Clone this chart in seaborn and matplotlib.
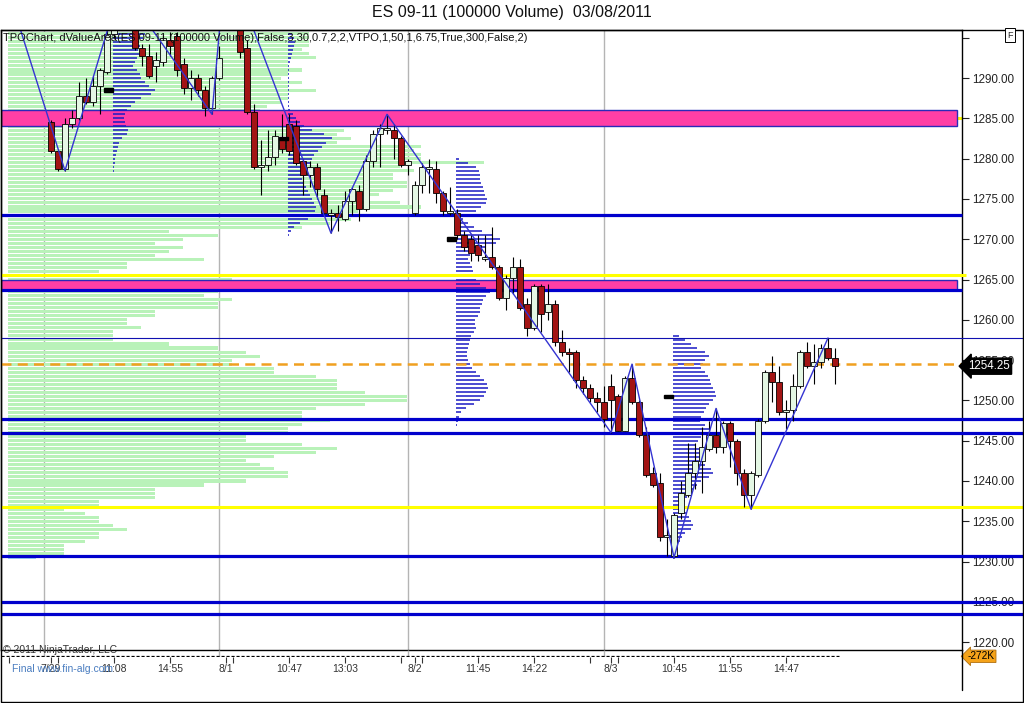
import matplotlib
matplotlib.use("Agg")
import matplotlib.pyplot as plt
import matplotlib.transforms as mtransforms
from matplotlib.lines import Line2D
from matplotlib.patches import Rectangle
import seaborn as sns
import numpy as np
import pandas as pd

# ---- 100000-volume bars (index 0 = first bar of 7/29 on screen) ----
opens = [1284.5, 1281.0, 1278.75, 1284.25, 1285.0, 1287.75, 1287.0, 1289.0, 1290.75, 1295.5,
         1298.5, 1299.75, 1297.0, 1293.75, 1292.75, 1291.5, 1292.0, 1294.75, 1295.25, 1291.75,
         1288.75, 1290.0, 1288.5, 1286.25, 1290.0, 1303.0, 1301.0, 1298.5, 1293.75, 1285.75,
         1279.0, 1279.25, 1280.25, 1282.5, 1284.25, 1284.0, 1279.75, 1278.0, 1279.0, 1275.5,
         1273.0, 1273.25, 1272.5, 1274.75, 1276.0, 1273.75, 1279.75, 1283.0, 1283.5, 1283.5,
         1282.5, 1279.25, 1273.25, 1276.75, 1278.75, 1278.75, 1275.75, 1273.25, 1273.25, 1270.5,
         1270.0, 1269.25, 1267.5, 1267.75, 1266.5, 1262.75, 1265.25, 1266.5, 1262.0, 1259.0,
         1264.25, 1261.0, 1262.0, 1257.25, 1256.0, 1256.0, 1252.5, 1251.5, 1250.25, 1249.75,
         1251.75, 1250.5, 1246.25, 1252.75, 1249.75, 1245.75, 1241.0, 1239.75, 1233.0, 1230.75,
         1236.0, 1238.25, 1241.0, 1242.5, 1244.0, 1245.75, 1244.25, 1247.25, 1245.0, 1241.0,
         1238.25, 1240.75, 1247.5, 1253.5, 1252.25, 1248.5, 1248.75, 1251.75, 1256.0, 1254.25,
         1254.75, 1256.5, 1255.25]
highs = [1284.75, 1281.25, 1285.0, 1286.0, 1289.5, 1290.0, 1290.25, 1291.25, 1296.25, 1299.25,
         1301.5, 1300.5, 1297.5, 1294.25, 1294.25, 1293.25, 1295.5, 1295.75, 1295.75, 1292.5,
         1291.0, 1290.5, 1289.0, 1290.25, 1294.0, 1305.0, 1302.5, 1299.5, 1294.75, 1286.75,
         1282.25, 1283.5, 1283.5, 1285.5, 1285.5, 1284.75, 1280.0, 1279.75, 1279.5, 1276.25,
         1273.75, 1274.25, 1276.0, 1276.5, 1276.75, 1280.5, 1283.5, 1284.25, 1285.5, 1284.25,
         1282.75, 1280.0, 1277.25, 1279.5, 1280.0, 1279.75, 1276.0, 1276.5, 1273.75, 1271.0,
         1270.5, 1270.5, 1270.5, 1271.5, 1266.75, 1265.5, 1267.75, 1267.5, 1262.75, 1264.5,
         1264.5, 1264.5, 1262.5, 1258.75, 1256.5, 1256.25, 1253.0, 1252.0, 1251.0, 1251.75,
         1253.25, 1250.75, 1253.0, 1254.5, 1250.0, 1246.75, 1241.75, 1241.0, 1235.25, 1236.0,
         1240.0, 1244.75, 1244.75, 1246.75, 1247.5, 1249.0, 1247.5, 1247.5, 1245.25, 1241.5,
         1241.25, 1247.75, 1253.75, 1255.5, 1254.25, 1250.0, 1253.25, 1256.25, 1257.25, 1257.0,
         1257.0, 1257.75, 1256.5]
lows = [1280.75, 1278.5, 1278.5, 1283.75, 1284.75, 1286.75, 1286.5, 1285.5, 1290.5, 1295.0,
        1297.75, 1296.5, 1293.5, 1291.5, 1290.0, 1289.5, 1291.5, 1292.75, 1290.25, 1288.0,
        1287.25, 1287.75, 1285.25, 1285.5, 1289.75, 1300.0, 1297.75, 1292.5, 1285.5, 1278.75,
        1275.5, 1278.5, 1279.25, 1280.75, 1280.5, 1279.25, 1275.5, 1276.5, 1275.0, 1273.0,
        1270.75, 1271.0, 1272.25, 1273.0, 1272.25, 1273.5, 1279.0, 1279.0, 1283.0, 1280.0,
        1279.0, 1278.0, 1273.0, 1275.75, 1275.75, 1274.5, 1273.0, 1273.0, 1270.0, 1268.5,
        1267.25, 1267.25, 1267.25, 1266.25, 1262.5, 1261.25, 1263.25, 1261.25, 1258.0, 1258.75,
        1258.5, 1260.0, 1256.75, 1255.5, 1253.5, 1251.5, 1250.75, 1249.75, 1248.5, 1246.75,
        1246.0, 1246.25, 1246.25, 1249.5, 1245.5, 1240.5, 1239.25, 1232.5, 1230.75, 1230.5,
        1235.25, 1238.0, 1239.0, 1238.5, 1243.75, 1243.5, 1243.5, 1241.75, 1239.5, 1236.75,
        1236.5, 1240.5, 1247.25, 1249.75, 1248.25, 1246.5, 1247.5, 1251.5, 1254.0, 1252.0,
        1254.0, 1255.0, 1252.0]
closes = [1281.0, 1278.75, 1284.25, 1285.0, 1287.75, 1287.0, 1289.0, 1291.0, 1295.5, 1298.5,
          1299.75, 1297.0, 1293.75, 1292.75, 1290.25, 1292.25, 1295.0, 1294.0, 1291.0, 1288.75,
          1290.0, 1288.5, 1286.25, 1290.0, 1292.5, 1301.0, 1298.5, 1293.25, 1285.75, 1279.0,
          1279.25, 1280.25, 1282.75, 1281.25, 1281.0, 1279.5, 1278.0, 1279.0, 1276.25, 1273.25,
          1273.25, 1272.75, 1274.75, 1276.25, 1273.75, 1279.75, 1283.0, 1283.75, 1283.75, 1282.5,
          1279.25, 1279.75, 1276.75, 1279.0, 1279.0, 1275.75, 1273.5, 1273.5, 1270.5, 1269.0,
          1268.25, 1268.0, 1267.75, 1266.5, 1262.75, 1265.25, 1266.5, 1261.5, 1259.0, 1264.25,
          1260.75, 1262.0, 1257.25, 1256.0, 1255.75, 1252.5, 1251.5, 1250.25, 1249.75, 1247.75,
          1250.0, 1246.25, 1252.75, 1249.75, 1245.75, 1240.75, 1239.5, 1233.0, 1233.25, 1235.75,
          1238.5, 1241.0, 1242.5, 1244.25, 1245.75, 1244.25, 1247.25, 1245.0, 1241.0, 1238.25,
          1241.0, 1247.5, 1253.5, 1252.25, 1248.5, 1248.75, 1251.75, 1256.0, 1254.25, 1254.75,
          1256.5, 1255.25, 1254.25]

# zigzag swing points
zz_bars = [-5, 2, 10, 23, 25, 40, 48, 80, 83, 89, 95, 100, 111]
zz_prices = [1297.75, 1278.5, 1301.5, 1285.5, 1305.0, 1270.75, 1285.5, 1246.0, 1254.5,
             1230.5, 1249.0, 1236.5, 1257.75]

# composite TPO profile (light green), one row per 0.5 pt from 1295.5 down, length in bars
composite_top = 1295.5
composite_tpo = [43, 43, 43, 43, 42, 43, 44, 40, 40, 42, 40, 39, 42, 40, 44, 40, 40, 39, 37, 36,
                 37, 39, 40, 42, 48, 47, 49, 47, 59, 58, 59, 59, 68, 56, 58, 55, 55, 57, 57, 55,
                 53, 49, 56, 59, 50, 53, 49, 46, 42,
                 23, 30, 25, 21, 25, 23, 21, 28, 17, 17, 13, 27, 32, 30, 27, 30, 28, 32, 30, 30,
                 21, 21, 17, 17, 19, 15, 15, 15, 23, 30, 34, 36, 32, 32, 38, 38, 44, 47, 47, 47,
                 51, 57, 57, 51, 44, 42, 42, 46, 42, 40, 40, 34, 34, 42, 47, 44, 38, 34, 36, 38,
                 40, 40, 34, 28, 21, 21, 21, 13, 13, 8, 11, 13, 13, 15, 17, 13, 13, 11, 8, 8, 8, 4]

# daily volume profiles (dark blue), one row per 0.5 pt, length in 1/7 bar
day_tops = [1296.0, 1296.0, 1280.0, 1258.0]
day_start_bars = [8.85, 33.85, 57.85, 88.9]
day_tpo = [
    [28, 32, 30, 26, 27, 25, 27, 24, 22, 20, 24, 27, 28, 32, 36, 42, 38, 28, 22, 18, 14, 12, 11,
     12, 13, 15, 14, 9, 6, 5, 4, 3, 2, 2, 1, 1],
    [3, 4, 6, 7, 6, 5, 4, 3, 2, 1, 1, 1, 1, 1, 1, 1, 1, 1, 1, 1, 2, 5, 8, 12, 16, 24, 36, 44, 38,
     34, 30, 26, 24, 22, 18, 15, 13, 14, 16, 18, 20, 22, 24, 26, 28, 27, 24, 20, 12, 6, 3, 1],
    [3, 12, 20, 23, 24, 24, 25, 27, 28, 29, 31, 30, 25, 20, 10, 7, 12, 18, 26, 36, 44, 40, 30, 20,
     14, 12, 14, 16, 17, 18, 20, 24, 30, 34, 30, 27, 26, 24, 24, 22, 19, 19, 20, 18, 15, 14, 13,
     12, 11, 11, 12, 14, 16, 20, 24, 28, 31, 32, 30, 28, 24, 18, 10, 5, 3, 2, 1],
    [6, 12, 18, 24, 32, 36, 32, 30, 28, 32, 35, 37, 38, 40, 42, 43, 40, 36, 33, 31, 28, 27, 32, 36,
     32, 28, 25, 23, 26, 28, 29, 30, 32, 38, 40, 36, 28, 24, 20, 17, 14, 12, 10, 11, 14, 16, 18, 20,
     18, 12, 9, 7, 5, 3, 2, 1],
]

# horizontal levels
pink_zones = [(1284.0, 1286.0), (1263.75, 1265.0)]
blue_short = [1273.0, 1263.75]
blue_long = [1247.75, 1246.0, 1230.75, 1225.0, 1223.5]
thin_level = 1257.75
yellow_levels = [1285.0, 1265.5, 1236.75]
dash_level = 1254.5
last_price = 1254.25
day_breaks = [-1, 24, 51, 79]

tick_bars = [-6, 0, 1, 9, 17, 25, 26, 34, 42, 50, 52, 53, 61, 69, 77, 80, 81, 89, 97, 105]
tick_labels = ['', '7/29', '', '11:08', '14:55', '8/1', '', '10:47', '13:03', '', '8/2', '',
               '11:45', '14:22', '', '8/3', '', '10:45', '11:55', '14:47']
price_ticks = list(range(1220, 1300, 5))

title = 'ES 09-11 (100000 Volume)  03/08/2011'
study = ('TPOChart, dValueArea(ES 09-11 (100000 Volume),False,3,30,0.7,2,2,VTPO,1,50,1,6.75,'
         'True,300,False,2)')

sns.set_theme(style="white")
plt.rcParams['font.family'] = ['Liberation Sans', 'DejaVu Sans']

W, H = 1024, 703
fig = plt.figure(figsize=(W / 100, H / 100), dpi=100)
fig.patch.set_facecolor('white')


def frect(x0, y0, x1, y1):
    return [x0 / W, 1 - y1 / H, (x1 - x0) / W, (y1 - y0) / H]


ax = fig.add_axes(frect(1, 30, 962, 650))
ax2 = fig.add_axes(frect(1, 650, 962, 657))
xlim = (-7.14, 130.14)
ylim = (1219.03, 1295.96)
trans = mtransforms.blended_transform_factory(ax.transAxes, ax.transData)


def axfrac(px):
    return (px - 1) / 961.0


# day separators
ax.vlines(day_breaks, ylim[0], ylim[1], color='#b4b4b4', lw=1, zorder=0.5)
ax2.vlines(day_breaks, 0, 1, color='#b4b4b4', lw=1, zorder=0.5)

# composite profile
comp_prices = composite_top - 0.5 * np.arange(len(composite_tpo))
comp_colors = ['#b9f2b9'] * (len(composite_tpo) - 1) + ['#9fd4f0']
ax.barh(comp_prices, composite_tpo, left=-6.15, height=0.38, color=comp_colors, lw=0, zorder=1)

# zones
for lo, hi in pink_zones:
    ax.add_patch(Rectangle((0, lo), axfrac(957), hi - lo, transform=trans, facecolor='#ff3fa5',
                           edgecolor='#2a2ab8', lw=1, zorder=2.2))

# daily profiles + POC markers
for top, counts, start in zip(day_tops, day_tpo, day_start_bars):
    c = np.array(counts, dtype=float)
    p = top - 0.5 * np.arange(len(c))
    ax.hlines(p, start, start + c / 7.0, color='#1a1ac4', lw=1.1, zorder=3)
    poc = p[np.argmax(c)]
    ax.add_patch(Rectangle((start - 1.3, poc - 0.22), 1.3, 0.44, color='black', zorder=4.5))


def level(p, x1, color, lw, z=3.5, **kw):
    ax.plot([0, axfrac(x1)], [p, p], transform=trans, color=color, lw=lw, clip_on=False,
            zorder=z, solid_capstyle='butt', **kw)


level(yellow_levels[0], 962, '#ffff00', 2.2, z=2.0)
level(yellow_levels[1], 966, '#ffff00', 2.2)
level(yellow_levels[2], 1023, '#ffff00', 2.2)
for p in blue_short:
    level(p, 962, '#0000cc', 2.3)
for p in blue_long:
    level(p, 1023, '#0000cc', 2.3)
level(thin_level, 1023, '#1010b0', 0.8)
level(dash_level, 962, '#f0a020', 1.8, dashes=(4, 2.5))

# candles
x = np.arange(len(opens))
o = np.array(opens); c = np.array(closes)
up = c >= o
ax.vlines(x, lows, highs, color='black', lw=0.8, zorder=4)
body = np.maximum(np.abs(c - o), 0.12)
ax.bar(x, body, bottom=np.minimum(o, c), width=0.72,
       color=np.where(up, '#e4f7e4', '#a31414'), edgecolor='black', lw=0.6, zorder=4.2)

# zigzag
zz = pd.DataFrame({'bar': zz_bars, 'price': zz_prices})
sns.lineplot(data=zz, x='bar', y='price', sort=False, estimator=None, color='#3434d2',
             lw=1, ax=ax, zorder=5)

ax.set_xlim(*xlim)
ax.set_ylim(*ylim)
ax.set_xlabel('')
ax.set_ylabel('')
ax.yaxis.tick_right()
ax.set_yticks(price_ticks)
ax.set_yticklabels([f'{v:.2f}' if v != 1295 else '' for v in price_ticks])
ax.tick_params(axis='y', right=True, left=False, direction='out', length=5, width=0.8, pad=2.5,
               labelsize=8.4, colors='#222222')
ax.tick_params(axis='x', bottom=False, labelbottom=False)
for s in ax.spines.values():
    s.set_color('black')
    s.set_linewidth(1)
ax.grid(False)

ax.text(0.002, 0.987, study, transform=ax.transAxes, fontsize=8.0, va='center', ha='left',
        color='#111111', zorder=7)

# last price marker
ax.text(1.006, last_price, f'{last_price:.2f}', transform=trans, fontsize=8.3, color='white',
        va='center', ha='left', clip_on=False, zorder=10,
        bbox=dict(boxstyle='larrow,pad=0.18', fc='black', ec='black'))

# bottom strip with time axis
ax2.set_xlim(*xlim)
ax2.set_ylim(0, 1)
for s in ax2.spines.values():
    s.set_visible(False)
ax2.patch.set_alpha(0)
ax2.set_yticks([])
ax2.set_xticks(tick_bars)
ax2.set_xticklabels(tick_labels)
ax2.tick_params(axis='x', bottom=True, direction='out', length=4.3, width=0.8, pad=1,
                labelsize=7.5, colors='#333333')
ax2.plot([xlim[0], len(opens) - 0.5], [0.12, 0.12], color='black', lw=0.9,
         dashes=(2.5, 1.5))
ax2.text(1.006, 0.1, '-272K', transform=ax2.transAxes, fontsize=7.3, color='black',
         va='center', ha='left', clip_on=False, zorder=10,
         bbox=dict(boxstyle='larrow,pad=0.12', fc='#f5a31a', ec='#b07010', lw=0.6))

# texts outside the plot
fig.text(512 / W, 1 - 13 / H, title, ha='center', va='center', fontsize=11.5, color='#111111')
fig.text(3 / W, 1 - 650 / H, '\u00a9 2011 NinjaTrader, LLC', fontsize=7.5, va='center',
         color='#333333')
fig.text(12 / W, 1 - 669 / H, 'Final www.fin-alg.com', fontsize=7.5, va='center',
         color='#4a7dc0')
fig.text(1010 / W, 1 - 35 / H, 'F', fontsize=6.5, ha='center', va='center',
         bbox=dict(boxstyle='square,pad=0.25', fc='white', ec='black', lw=0.7))

# frame
fig.add_artist(Rectangle((0.5 / W, 1 - 701.5 / H), 1022.5 / W, 671.5 / H,
                         transform=fig.transFigure, fill=False, ec='black', lw=1))
fig.add_artist(Line2D([962 / W, 962 / W], [1 - 650 / H, 1 - 690 / H],
                      transform=fig.transFigure, color='black', lw=1))

fig.savefig('out.png', dpi=100)
